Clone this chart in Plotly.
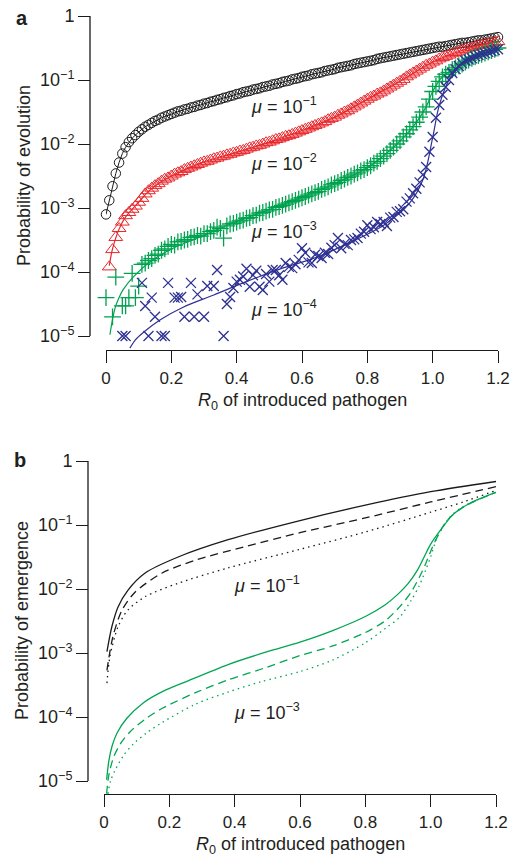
import numpy as np
import plotly.graph_objects as go

W, H = 518, 858

# ---------------- Panel a data (log10 of probability) ----------------
grid = [round(i * 0.01, 2) for i in range(121)]

black_x = grid
black_log = [-3.10, -2.88, -2.66, -2.46, -2.29, -2.15, -2.05, -1.97, -1.91, -1.86,
             -1.81, -1.77, -1.73, -1.70, -1.67, -1.64, -1.62, -1.59, -1.57, -1.55,
             -1.53, -1.51, -1.49, -1.48, -1.46, -1.45, -1.43, -1.42, -1.40, -1.39,
             -1.37, -1.36, -1.34, -1.33, -1.31, -1.30, -1.28, -1.27, -1.25, -1.24,
             -1.22, -1.21, -1.19, -1.18, -1.17, -1.15, -1.14, -1.13, -1.11, -1.10,
             -1.09, -1.07, -1.06, -1.05, -1.03, -1.02, -1.01, -0.99, -0.98, -0.97,
             -0.95, -0.94, -0.93, -0.91, -0.90, -0.89, -0.88, -0.86, -0.85, -0.84,
             -0.83, -0.81, -0.80, -0.79, -0.78, -0.77, -0.75, -0.74, -0.73, -0.72,
             -0.71, -0.70, -0.69, -0.67, -0.66, -0.65, -0.64, -0.63, -0.62, -0.61,
             -0.60, -0.59, -0.58, -0.57, -0.56, -0.55, -0.54, -0.53, -0.52, -0.51,
             -0.50, -0.49, -0.48, -0.48, -0.47, -0.46, -0.45, -0.44, -0.43, -0.42,
             -0.42, -0.41, -0.40, -0.39, -0.38, -0.38, -0.37, -0.36, -0.35, -0.34,
             -0.33]

red_x = grid[1:]
red_log = [-3.92, -3.65, -3.46, -3.32, -3.22, -3.12, -3.07, -3.02, -2.97,
           -2.91, -2.85, -2.78, -2.73, -2.69, -2.65, -2.62, -2.58, -2.55, -2.53,
           -2.50, -2.47, -2.45, -2.43, -2.40, -2.38, -2.36, -2.34, -2.32, -2.30,
           -2.28, -2.27, -2.25, -2.23, -2.22, -2.20, -2.19, -2.17, -2.16, -2.14,
           -2.13, -2.11, -2.10, -2.08, -2.06, -2.05, -2.03, -2.02, -2.00, -1.98,
           -1.97, -1.95, -1.93, -1.92, -1.90, -1.88, -1.87, -1.85, -1.83, -1.81,
           -1.79, -1.77, -1.75, -1.73, -1.71, -1.69, -1.67, -1.65, -1.62, -1.60,
           -1.58, -1.55, -1.53, -1.50, -1.48, -1.45, -1.42, -1.39, -1.36, -1.33,
           -1.30, -1.27, -1.25, -1.22, -1.20, -1.17, -1.14, -1.11, -1.08, -1.05,
           -1.02, -0.99, -0.95, -0.92, -0.89, -0.86, -0.83, -0.80, -0.77, -0.75,
           -0.72, -0.70, -0.67, -0.65, -0.63, -0.61, -0.59, -0.57, -0.55, -0.53,
           -0.52, -0.50, -0.49, -0.48, -0.46, -0.45, -0.44, -0.43, -0.42, -0.41,
           -0.40]
red_line_x = [0.01, 0.02, 0.04, 0.06, 0.08, 0.10, 0.13, 0.16, 0.20, 0.30, 0.40, 0.50,
              0.60, 0.70, 0.80, 0.90, 1.00, 1.10, 1.20]
red_line_log = [-3.90, -3.64, -3.33, -3.14, -3.02, -2.91, -2.74, -2.62, -2.50, -2.28,
                -2.13, -1.97, -1.79, -1.58, -1.30, -1.02, -0.72, -0.52, -0.40]

green_x = [0.00, 0.02, 0.03, 0.05, 0.06, 0.07, 0.08, 0.09, 0.10] + grid[11:]
green_log = [-4.40, -4.70, -4.08, -4.53, -4.53, -4.40, -4.02, -4.40, -4.22,
             -3.88, -3.86, -3.82, -3.79, -3.74, -3.72, -3.66, -3.64, -3.60,
             -3.57, -3.58, -3.53, -3.52, -3.50, -3.49, -3.46, -3.45, -3.43, -3.44,
             -3.40, -3.40, -3.37, -3.35, -3.30, -3.32, -3.47, -3.28, -3.25, -3.24,
             -3.22, -3.20, -3.19, -3.16, -3.15, -3.12, -3.11, -3.08, -3.07, -3.05,
             -3.03, -3.02, -2.99, -2.98, -2.96, -2.94, -2.92, -2.90, -2.88, -2.86,
             -2.84, -2.82, -2.80, -2.78, -2.76, -2.74, -2.71, -2.69, -2.67, -2.64,
             -2.62, -2.60, -2.57, -2.55, -2.52, -2.50, -2.47, -2.45, -2.42, -2.40,
             -2.37, -2.34, -2.30, -2.27, -2.23, -2.19, -2.15, -2.10, -2.05, -2.00,
             -1.95, -1.89, -1.84, -1.78, -1.73, -1.66, -1.58, -1.50, -1.42, -1.30,
             -1.18, -1.10, -1.02, -0.95, -0.91, -0.88, -0.84, -0.81, -0.78, -0.75,
             -0.72, -0.69, -0.66, -0.64, -0.62, -0.60, -0.58, -0.56, -0.54, -0.52,
             -0.50]
green_line_x = [0.012, 0.02, 0.028, 0.04, 0.052, 0.083, 0.135, 0.205, 0.29, 0.39, 0.47,
                0.60, 0.70, 0.80, 0.88, 0.94, 0.98, 1.00, 1.03, 1.075, 1.12, 1.20]
green_line_log = [-4.98, -4.74, -4.56, -4.40, -4.28, -4.08, -3.84, -3.63, -3.45, -3.23,
                  -3.08, -2.83, -2.62, -2.37, -2.05, -1.73, -1.42, -1.18, -0.95, -0.80,
                  -0.66, -0.50]

blue_x = [0.05, 0.06, 0.11, 0.12, 0.13, 0.14, 0.15, 0.17, 0.18, 0.19, 0.21, 0.22,
          0.23, 0.24, 0.26, 0.27, 0.28, 0.30, 0.31, 0.33, 0.34, 0.36, 0.37, 0.38,
          0.39, 0.40, 0.41, 0.42, 0.43, 0.44, 0.45, 0.46, 0.47, 0.48, 0.49, 0.50,
          0.51, 0.52, 0.53, 0.54, 0.55, 0.56, 0.57, 0.58, 0.59, 0.60, 0.61, 0.62,
          0.63, 0.64, 0.65, 0.66, 0.67, 0.68, 0.69, 0.70, 0.71, 0.72, 0.73, 0.74,
          0.75, 0.76, 0.77, 0.78, 0.79, 0.80, 0.81, 0.82, 0.83, 0.84, 0.85, 0.86,
          0.87, 0.88, 0.89, 0.90, 0.91, 0.92, 0.93, 0.94, 0.95, 0.96, 0.97, 0.98,
          0.99, 1.00, 1.01, 1.02, 1.03, 1.04, 1.05, 1.06, 1.07, 1.08, 1.09, 1.10,
          1.11, 1.12, 1.13, 1.14, 1.15, 1.16, 1.17, 1.18, 1.19, 1.20]
blue_log = [-5.00, -5.00, -4.17, -4.53, -5.00, -4.40, -4.70, -5.00, -5.00, -4.17,
            -4.40, -4.40, -4.39, -4.70, -4.17, -4.70, -4.35, -4.70, -4.22, -4.22,
            -3.97, -5.00, -4.50, -4.39, -4.25, -4.15, -4.12, -4.07, -3.95, -4.23,
            -4.05, -3.98, -4.23, -4.28, -4.03, -4.15, -3.97, -3.97, -4.05, -4.12,
            -3.86, -3.92, -3.94, -3.88, -3.81, -3.63, -3.70, -3.85, -3.86, -3.73,
            -3.75, -3.78, -3.70, -3.72, -3.62, -3.58, -3.47, -3.63, -3.56, -3.58,
            -3.50, -3.49, -3.47, -3.40, -3.37, -3.27, -3.33, -3.30, -3.22, -3.25,
            -3.22, -3.28, -3.15, -3.14, -3.06, -3.05, -3.02, -2.90, -2.85, -2.77,
            -2.70, -2.60, -2.48, -2.36, -2.12, -1.89, -1.59, -1.39, -1.23, -1.11,
            -1.00, -0.89, -0.83, -0.78, -0.74, -0.70, -0.68, -0.66, -0.63, -0.61,
            -0.59, -0.58, -0.56, -0.55, -0.53, -0.52]
blue_line_x = [0.073, 0.09, 0.113, 0.165, 0.236, 0.33, 0.41, 0.46, 0.54, 0.645, 0.75,
               0.85, 0.93, 0.97, 1.00, 1.02, 1.05, 1.08, 1.10, 1.15, 1.20]
blue_line_log = [-5.19, -5.06, -4.95, -4.75, -4.55, -4.36, -4.19, -4.09, -3.94, -3.77,
                 -3.53, -3.27, -2.92, -2.56, -1.90, -1.40, -1.00, -0.80, -0.70, -0.60,
                 -0.52]

# ---------------- Panel b data (log10 of probability) ----------------
b_black_solid_x = [0.009, 0.024, 0.043, 0.073, 0.126, 0.227, 0.38, 0.60, 0.80, 1.00, 1.20]
b_black_solid_log = [-2.98, -2.59, -2.28, -2.02, -1.75, -1.50, -1.23, -0.93, -0.69, -0.48, -0.32]
b_black_dash_x = [0.009, 0.027, 0.055, 0.095, 0.178, 0.28, 0.43, 0.60, 0.80, 1.00, 1.20]
b_black_dash_log = [-3.27, -2.75, -2.33, -2.05, -1.75, -1.55, -1.34, -1.12, -0.89, -0.64, -0.40]
b_black_dot_x = [0.009, 0.018, 0.043, 0.073, 0.126, 0.227, 0.38, 0.60, 0.80, 1.00, 1.10, 1.20]
b_black_dot_log = [-3.47, -3.06, -2.59, -2.33, -2.12, -1.91, -1.67, -1.38, -1.11, -0.80, -0.64, -0.46]

b_green_solid_x = [0.008, 0.015, 0.025, 0.04, 0.07, 0.12, 0.18, 0.25, 0.38, 0.50, 0.60,
                   0.70, 0.80, 0.86, 0.90, 0.93, 0.96, 0.98, 1.00, 1.03, 1.07, 1.12, 1.20]
b_green_solid_log = [-4.98, -4.68, -4.45, -4.25, -4.02, -3.78, -3.60, -3.45, -3.18, -2.98,
                     -2.83, -2.65, -2.43, -2.25, -2.08, -1.92, -1.70, -1.50, -1.30, -1.08,
                     -0.83, -0.66, -0.49]
b_green_dash_x = [0.008, 0.015, 0.03, 0.05, 0.08, 0.13, 0.18, 0.28, 0.38, 0.50, 0.60,
                  0.70, 0.80, 0.86, 0.905, 0.94, 0.965, 0.985, 1.005, 1.02, 1.05, 1.10, 1.20]
b_green_dash_log = [-5.20, -4.90, -4.62, -4.42, -4.23, -4.02, -3.86, -3.62, -3.42, -3.22,
                    -3.04, -2.89, -2.68, -2.50, -2.28, -2.05, -1.82, -1.60, -1.35, -1.19,
                    -0.93, -0.72, -0.49]
b_green_dot_x = [0.012, 0.02, 0.034, 0.06, 0.09, 0.13, 0.18, 0.28, 0.38, 0.48, 0.60,
                 0.70, 0.80, 0.86, 0.905, 0.94, 0.965, 0.985, 1.00, 1.02, 1.06, 1.10, 1.20]
b_green_dot_log = [-5.20, -5.00, -4.83, -4.60, -4.42, -4.25, -4.08, -3.80, -3.61, -3.45,
                   -3.29, -3.11, -2.84, -2.62, -2.44, -2.18, -1.95, -1.70, -1.50, -1.19,
                   -0.87, -0.71, -0.49]

x_ticks = [0, 0.2, 0.4, 0.6, 0.8, 1.0, 1.2]
x_ticktext = ["0", "0.2", "0.4", "0.6", "0.8", "1.0", "1.2"]
y_ticks = [-5, -4, -3, -2, -1, 0]
y_ticktext = ["10<sup>−5</sup>", "10<sup>−4</sup>", "10<sup>−3</sup>",
              "10<sup>−2</sup>", "10<sup>−1</sup>", "1"]

# ---------------- Styling ----------------
FONT = "Liberation Sans, Arial, Helvetica, sans-serif"
TXT = "#231f20"
BLACK = "#1a1a1a"
RED = "#e8262b"
GREEN_A = "#00a24f"
BLUE = "#2e3192"
GREEN_B = "#00a651"

def py(p):
    return 1 - p / H

fig = go.Figure()

# panel a
fig.add_trace(go.Scatter(x=black_x, y=black_log, mode="lines+markers", xaxis="x", yaxis="y",
                         line=dict(color=BLACK, width=1),
                         marker=dict(symbol="circle-open", size=9.5, color=BLACK,
                                     line=dict(color=BLACK, width=1)),
                         cliponaxis=False))
fig.add_trace(go.Scatter(x=red_line_x, y=red_line_log, mode="lines", xaxis="x", yaxis="y",
                         line=dict(color=RED, width=1.2, shape="spline")))
fig.add_trace(go.Scatter(x=red_x, y=red_log, mode="markers", xaxis="x", yaxis="y",
                         marker=dict(symbol="triangle-up-open", size=12, color=RED,
                                     line=dict(color=RED, width=1)),
                         cliponaxis=False))
fig.add_trace(go.Scatter(x=green_line_x, y=green_line_log, mode="lines", xaxis="x", yaxis="y",
                         line=dict(color=GREEN_A, width=1.2, shape="spline")))
fig.add_trace(go.Scatter(x=green_x, y=green_log, mode="markers", xaxis="x", yaxis="y",
                         marker=dict(symbol="cross-thin", size=12, color=GREEN_A,
                                     line=dict(color=GREEN_A, width=1.3)),
                         cliponaxis=False))
fig.add_trace(go.Scatter(x=blue_line_x, y=blue_line_log, mode="lines", xaxis="x", yaxis="y",
                         line=dict(color=BLUE, width=1.2, shape="spline")))
fig.add_trace(go.Scatter(x=blue_x, y=blue_log, mode="markers", xaxis="x", yaxis="y",
                         marker=dict(symbol="x-thin", size=10, color=BLUE,
                                     line=dict(color=BLUE, width=1.3)),
                         cliponaxis=False))

# panel b
for xs, ys, col, dash in [
    (b_black_solid_x, b_black_solid_log, BLACK, "solid"),
    (b_black_dash_x, b_black_dash_log, BLACK, "8px,5px"),
    (b_black_dot_x, b_black_dot_log, BLACK, "1.5px,4px"),
    (b_green_solid_x, b_green_solid_log, GREEN_B, "solid"),
    (b_green_dash_x, b_green_dash_log, GREEN_B, "8px,5px"),
    (b_green_dot_x, b_green_dot_log, GREEN_B, "1.5px,4px"),
]:
    fig.add_trace(go.Scatter(x=xs, y=ys, mode="lines", xaxis="x2", yaxis="y2",
                             line=dict(color=col, width=1.3, dash=dash, shape="spline",
                                       smoothing=0.8)))

common_x = dict(range=[0, 1.2], showline=True, linecolor=BLACK, linewidth=1.3,
                ticks="outside", ticklen=12, tickwidth=1.3, tickcolor=BLACK,
                tickvals=x_ticks, ticktext=x_ticktext, showgrid=False, zeroline=False,
                tickfont=dict(family=FONT, size=17, color=TXT), fixedrange=True,
                automargin=False)
common_y = dict(showline=False, ticks="outside", ticklen=12, tickwidth=1.3, tickcolor=BLACK,
                tickvals=y_ticks, ticktext=y_ticktext, showgrid=False, zeroline=False,
                tickfont=dict(family=FONT, size=18, color=TXT), fixedrange=True,
                anchor="free", automargin=False)

fig.update_layout(
    width=W, height=H, margin=dict(l=0, r=0, t=0, b=0, autoexpand=False), autosize=False,
    paper_bgcolor="white", plot_bgcolor="white", showlegend=False,
    xaxis=dict(domain=[106 / W, 498 / W], anchor="y", **common_x),
    yaxis=dict(domain=[py(350), py(16)], range=[-(350 - 16) / 64, 0],
               position=90 / W, **common_y),
    xaxis2=dict(domain=[104 / W, 496 / W], anchor="y2", **common_x),
    yaxis2=dict(domain=[py(794), py(461)], range=[-(794 - 461) / 64, 0],
                position=88 / W, **common_y),
)

# y axis lines spanning the tick range only
fig.add_shape(type="line", xref="paper", yref="y", x0=90 / W, x1=90 / W, y0=-5, y1=0,
              line=dict(color=BLACK, width=1.3))
fig.add_shape(type="line", xref="paper", yref="y2", x0=88 / W, x1=88 / W, y0=-5, y1=0,
              line=dict(color=BLACK, width=1.3))

def ann(text, x, y, size=18, angle=0, xanchor="center", yanchor="middle"):
    fig.add_annotation(text=text, x=x / W, y=py(y), xref="paper", yref="paper",
                       showarrow=False, textangle=angle, xanchor=xanchor, yanchor=yanchor,
                       font=dict(family=FONT, size=size, color=TXT))

ann("<b>a</b>", 22, 18, size=20)
ann("<b>b</b>", 20, 460, size=20)
ann("Probability of evolution", 24, 176, angle=-90)
ann("Probability of emergence", 22, 621, angle=-90)
ann("<i>R</i><sub>0</sub> of introduced pathogen", 302, 401)
ann("<i>R</i><sub>0</sub> of introduced pathogen", 300, 845)

mu_labels = [("<i>μ</i> = 10<sup>−1</sup>", 249, 105),
             ("<i>μ</i> = 10<sup>−2</sup>", 249, 163),
             ("<i>μ</i> = 10<sup>−3</sup>", 249, 230),
             ("<i>μ</i> = 10<sup>−4</sup>", 249, 308),
             ("<i>μ</i> = 10<sup>−1</sup>", 232, 584),
             ("<i>μ</i> = 10<sup>−3</sup>", 232, 711)]
for t, x, y in mu_labels:
    ann(t, x, y, xanchor="left")

post = (
    "var st=document.createElement('style');"
    "st.textContent='html,body{margin:0!important;padding:0!important;overflow:hidden!important;"
    "width:518px;height:858px;} body>div{position:absolute;left:0;top:0;}';"
    "document.head.appendChild(st);"
)

fig.write_html(
    "out.html",
    config={"displayModeBar": False, "responsive": False},
    post_script=post,
)
